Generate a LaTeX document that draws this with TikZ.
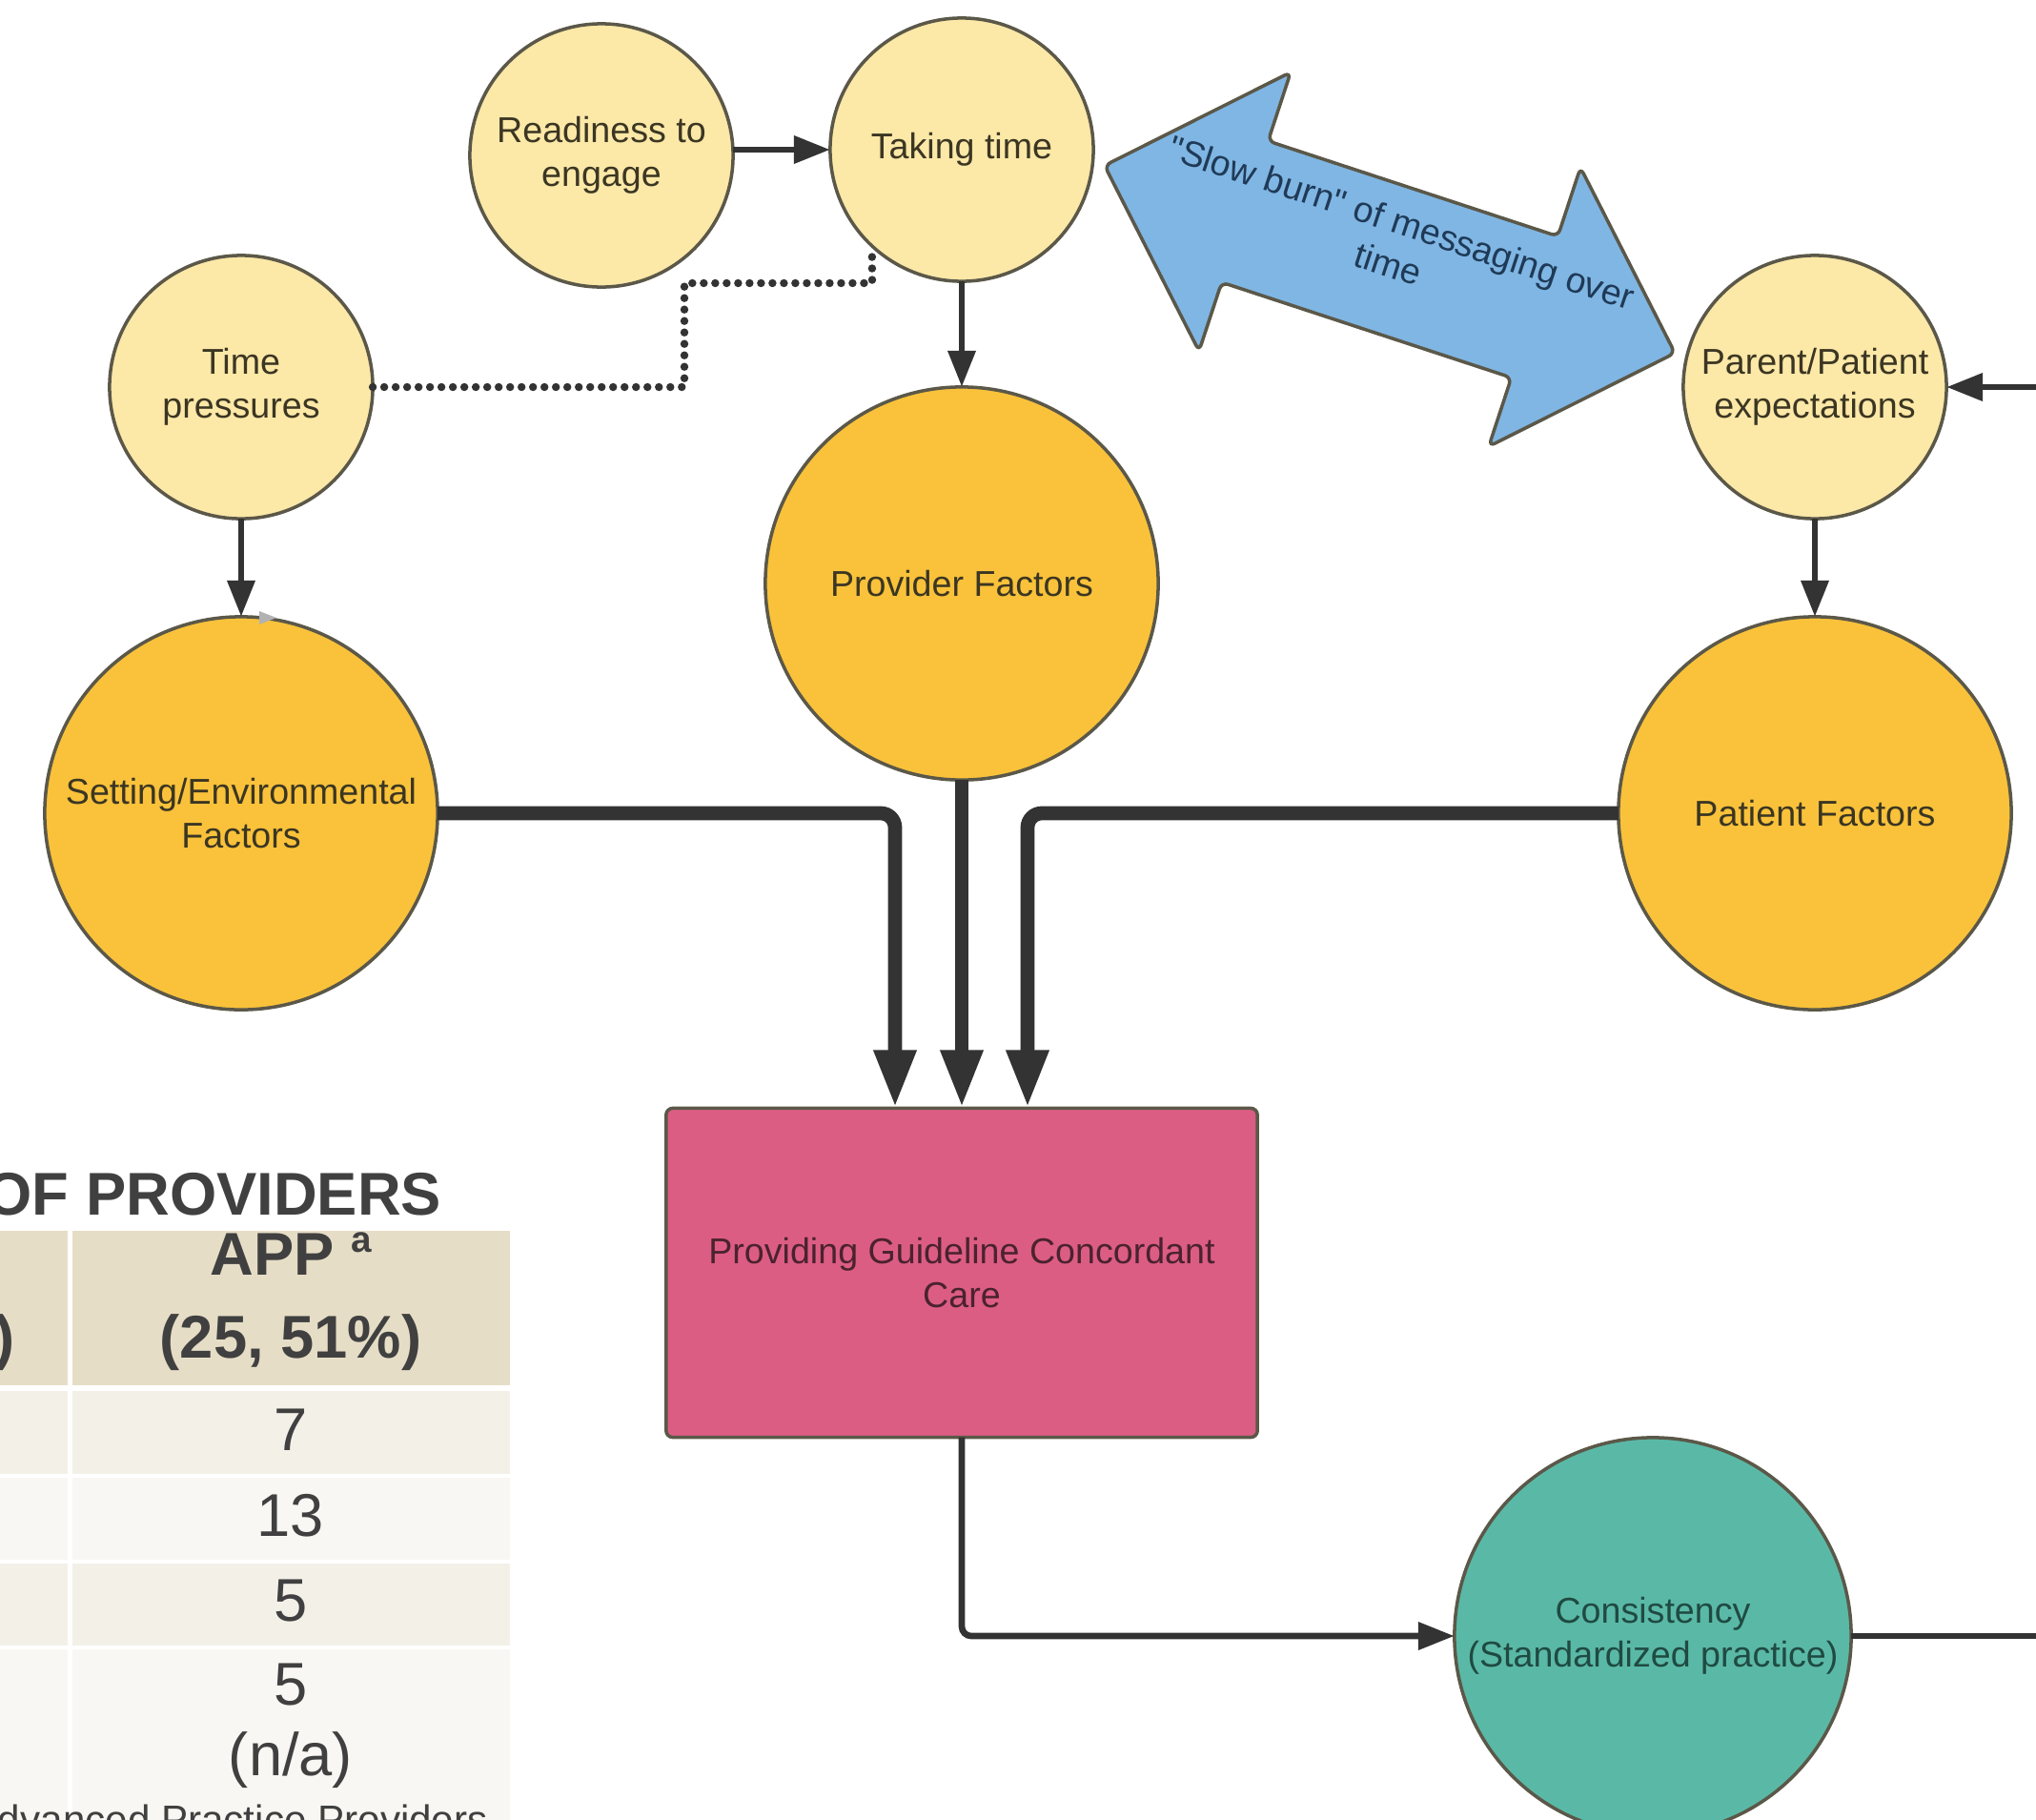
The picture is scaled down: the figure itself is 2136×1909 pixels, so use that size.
\documentclass[tikz,border=0pt]{standalone}
\usepackage{fontspec}
\setmainfont{Liberation Sans}[Ligatures=TeXOff]
\usepackage{xcolor}
\definecolor{lyellow}{HTML}{FCE8A7}
\definecolor{dyellow}{HTML}{F9C23A}
\definecolor{ppink}{HTML}{DC5D83}
\definecolor{tteal}{HTML}{5AB9A6}
\definecolor{bblue}{HTML}{80B6E3}
\definecolor{edge}{HTML}{5B5849}
\definecolor{ink}{HTML}{333333}
\definecolor{labtxt}{HTML}{3B3623}
\definecolor{caretxt}{HTML}{4A2230}
\definecolor{constxt}{HTML}{1F4A42}
\definecolor{bluetxt}{HTML}{1F3A57}
\definecolor{hdr}{HTML}{E6DDC6}
\definecolor{rowa}{HTML}{F3F0E8}
\definecolor{rowb}{HTML}{F8F7F3}
\definecolor{tabtxt}{HTML}{404040}
\usetikzlibrary{calc}
\usetikzlibrary{arrows.meta}

\begin{document}
\begin{tikzpicture}[x=0.01cm,y=-0.01cm,
	every node/.style={font=\fontsize{10.7}{13}\selectfont,align=center,inner sep=0pt,outer sep=0pt},
	small/.style={circle,draw=edge,line width=1pt,fill=lyellow,minimum size=2.76cm,text=labtxt},
	big/.style={circle,draw=edge,line width=1pt,fill=dyellow,minimum size=4.12cm,text=labtxt},
	arr/.style={ink,line width=1.9pt,-{Triangle[length=3.8mm,width=2.8mm]}},
	fat/.style={ink,line width=4.2pt,rounded corners=1.5mm,-{Triangle[length=6.1mm,width=4.1mm]}},
	dots/.style={ink,line width=2.4pt,line cap=round,dash pattern=on 0pt off 1.2mm},
	cell/.style={font=\fontsize{18}{21}\selectfont,text=tabtxt},
	head/.style={font=\fontsize{18}{24.7}\selectfont\bfseries,text=tabtxt}]
	\useasboundingbox (0,0) rectangle (2136,1909);
	\clip (0,0) rectangle (2136,1909);
	\fill[white] (0,0) rectangle (2136,1909);

	% table, cut by the left and bottom edges
	\node[head,anchor=east] (title) at (463,1253) {OF PROVIDERS};
	\fill[hdr] (0,1291) rectangle (71,1453);
	\fill[hdr] (76,1291) rectangle (535,1453);
	\foreach \ya/\yb/\c in {1459/1546/rowa,1550/1636/rowb,1640/1726/rowa,1730/1920/rowb}{
		\fill[\c] (0,\ya) rectangle (71,\yb);
		\fill[\c] (76,\ya) rectangle (535,\yb);
	}
	\node[head,anchor=east] (hdone) at (16,1408) {)};
	\node[head] (hdtwo) at (305,1365) {APP \raisebox{7pt}{\fontsize{11}{12}\selectfont a}\\(25, 51\%)};
	\node[cell] (ra) at (305,1500) {7};
	\node[cell] (rb) at (305,1590) {13};
	\node[cell] (rc) at (305,1679) {5};
	\node[cell] (rd) at (305,1767) {5};
	\node[cell] (rdn) at (305,1846) {(n/a)};
	\node[cell,font=\fontsize{12}{14}\selectfont,anchor=north west] (foot) at (-2,1893) {dvanced Practice Providers};

	% factors
	\node[small] (ready) at (631,163) {Readiness to\\engage};
	\node[small] (taking) at (1009,157) {Taking time};
	\node[small] (tpress) at (253,406) {Time\\pressures};
	\node[small] (parent) at (1904,406) {Parent/Patient\\expectations};
	\node[big] (provider) at (1009,612) {Provider Factors};
	\node[big] (setting) at (253,853) {Setting/Environmental\\Factors};
	\node[big] (patient) at (1904,853) {Patient Factors};
	\node[draw=edge,line width=1pt,fill=ppink,rounded corners=2pt,minimum width=6.2cm,minimum height=3.45cm,text=caretxt] (care) at (1009,1335) {Providing Guideline Concordant\\Care};
	\node[circle,draw=edge,line width=1pt,fill=tteal,minimum size=4.16cm,text=constxt] (cons) at (1734,1716) {Consistency\\(Standardized practice)};
	\coordinate (rin) at (2140,406);
	\coordinate (rout) at (2140,1716);

	% two-way arrow
	\begin{scope}[shift={(1458,272)},rotate=-18.2]
		\draw[draw=edge,line width=1pt,fill=bblue,rounded corners=2pt] (-315,0) -- (-160,-154) -- (-160,-78) -- (160,-78) -- (160,-154) -- (315,0) -- (160,154) -- (160,78) -- (-160,78) -- (-160,154) -- cycle;
		\node[transform shape,text=bluetxt] (burn) at (0,-18) {"Slow burn" of messaging over\\time};
	\end{scope}

	% connectors
	\draw[arr] (taking.west -| ready.east) -- (taking.west);
	\draw[arr] (taking) -- (provider);
	\draw[arr] (tpress) -- (setting);
	\draw[arr] (parent) -- (patient);
	\draw[arr] (rin) -- (parent.east);
	\draw[dots] (tpress.east) -- (718,406) |- (915,297) -- (taking.227);
	\fill[gray!60] (272,641) -- (290,648) -- (272,655) -- cycle;
	\draw[fat] (setting.east) -| ($(care.north)+(-70,0)$);
	\draw[fat] (provider) -- (care);
	\draw[fat] (patient.west) -| ($(care.north)+(69,0)$);
	\draw[arr,rounded corners=1mm] (care.south) |- (cons.west);
	\draw[ink,line width=1.9pt] (cons.east) -- (rout);
\end{tikzpicture}
\end{document}
